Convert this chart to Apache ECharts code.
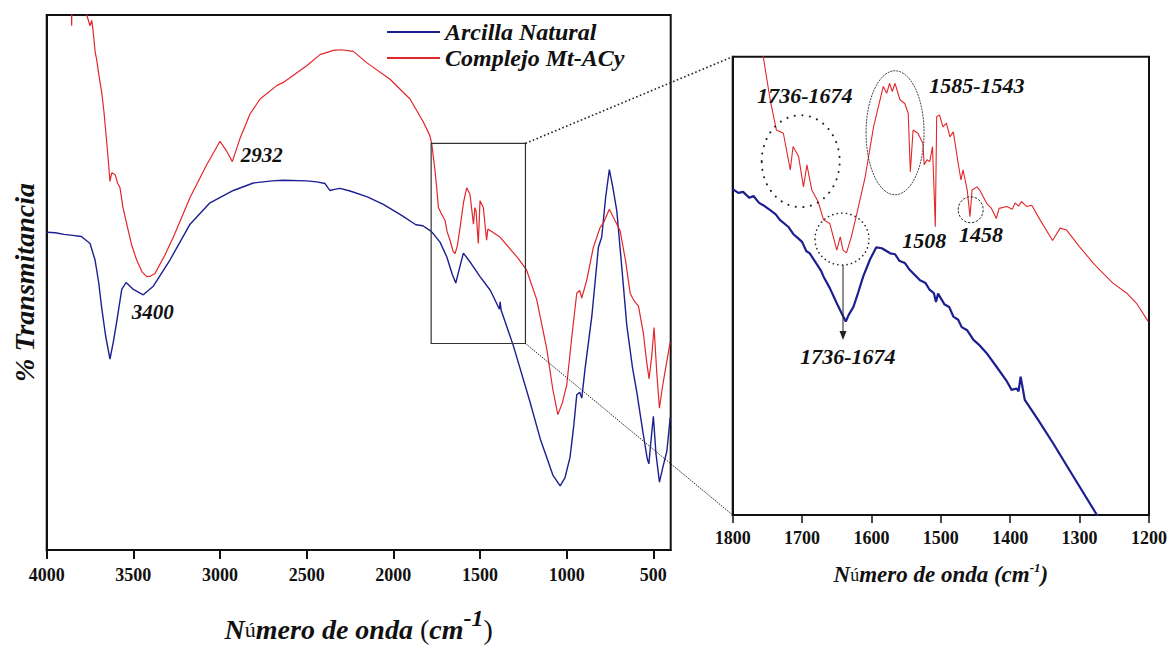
<!DOCTYPE html>
<html><head><meta charset="utf-8">
<script src="https://cdn.jsdelivr.net/npm/echarts@6/dist/echarts.min.js"></script>
<style>html,body{margin:0;padding:0;background:#fff}#c{width:1172px;height:648px}</style>
</head><body><div id="c"></div>
<script>
const seriesNames = ['Arcilla Natural', 'Complejo Mt-ACy'];
const mainTickLabels = [4000, 3500, 3000, 2500, 2000, 1500, 1000, 500];
const insetTickLabels = [1800, 1700, 1600, 1500, 1400, 1300, 1200];

// Main panel: Arcilla Natural (blue)
const arcillaMainWn = [4000,3950,3900,3850,3800,3750,3721,3700,3684,3660,3635,3615,3597,3567,3542,3500,3443,3385,3289,3173,3058,2923,2808,2700,2635,2500,2442,2394,2375,2365,2340,2308,2250,2150,2058,1950,1870,1830,1788,1769,1730,1692,1660,1640,1620,1596,1550,1500,1440,1388,1384,1378,1308,1212,1150,1115,1080,1038,1010,981,960,942,925,913,894,855,817,798,775,754,735,711,680,653,620,596,560,535,526,515,500,485,465,445,422,403];
const arcillaMainT  = [59.4,59.3,59.0,58.8,58.6,57.3,54.2,50.0,45.6,40.0,35.7,39.0,42.5,48.7,50.0,48.7,47.7,49.3,54.2,60.9,64.9,67.2,68.6,69.0,69.1,69.0,68.8,68.5,67.6,67.2,67.4,67.6,67.1,66.0,64.6,62.5,60.8,60.6,59.7,59.1,57.5,54.8,51.5,49.9,52.5,55.5,53.5,51.1,48.5,45.0,46.4,44.8,38.2,27.7,20.5,17.3,14.0,12.0,13.5,17.3,23.0,29.0,29.5,28.4,33.9,43.7,56.6,58.5,66.0,71.1,68.0,63.4,52.0,41.9,34.0,29.6,22.0,17.0,16.1,20.0,25.0,18.0,12.7,15.5,18.5,24.7];

// Main panel: Complejo Mt-ACy (red)
const complejoMainWn = [3900,3860,3856,3852,3800,3769,3750,3740,3731,3720,3712,3700,3683,3670,3654,3645,3635,3625,3606,3590,3577,3560,3538,3510,3481,3450,3423,3400,3375,3320,3269,3173,3077,3000,2961,2929,2915,2885,2827,2769,2673,2635,2500,2423,2346,2300,2231,2154,2019,1904,1827,1790,1779,1760,1750,1740,1725,1712,1702,1690,1673,1655,1644,1630,1615,1595,1577,1558,1538,1530,1523,1510,1500,1481,1462,1455,1442,1385,1327,1280,1231,1173,1115,1080,1051,1025,1000,970,942,925,913,884,846,807,790,754,720,692,660,634,610,586,558,540,525,510,496,480,465,450,433,403];
const complejoMainT  = [115,110,98,110,106,100,98,99,96.6,93,91.7,89,85.6,82,76.3,73,68.9,70.5,70.2,68.5,67.7,64,60.9,57,54.2,52,51.1,51.2,51.7,55,58.5,65.9,72.0,76.4,74.5,72.6,74,76.9,81.5,84.3,86.8,87.4,90.5,92.6,93.4,93.5,93.2,91.1,88.0,84.3,80.0,77.5,76.0,71,67.7,64.0,63,62.2,61.6,59.5,57.9,55.8,55.4,57,60.3,65,67.7,66.5,60.9,64,63.4,57.3,65.3,64.0,57.9,60,59.7,58.5,56.3,54.5,52.3,46.8,37.6,30,25.3,27.5,30.8,40,48.0,48.5,47.1,50.5,56.6,60.3,61,63.7,61.5,59.7,54,48.0,46.5,45.6,40.6,35.5,32.0,36,41.6,33,26.5,30,33.3,38.8];

// Inset panel (1800-1200 cm-1): Arcilla Natural
const arcillaInsetWn = [1800,1792,1785,1776,1770,1762,1756,1745,1738,1732,1720,1712,1708,1700,1694,1689,1680,1673,1669,1660,1650,1643,1637,1633,1626,1619,1612,1602,1593,1585,1573,1566,1560,1552,1545,1530,1522,1516,1510,1507,1504,1495,1488,1482,1475,1470,1462,1453,1444,1434,1420,1405,1398,1391,1388,1385,1379,1360,1338,1309,1275,1250];
const arcillaInsetT  = [71.1,70.3,70.5,69.2,69.6,68.1,67.6,66.4,65.6,64.4,62.9,61.2,60.7,59.6,57.6,57.1,55.0,53.4,52.0,49.5,46.2,44.0,42.2,43.6,45.4,48.6,52.0,55.8,58.4,58.2,57.1,56.9,55.5,55.0,53.5,51.2,50.6,49.1,48.4,46.5,48.3,46.0,45.4,43.3,42.6,41.0,40.3,38.2,37.0,35.3,32.4,29.2,27.3,27.6,27.0,30.2,25.1,20.8,15.6,8.4,0,-7];

// Inset panel (1800-1200 cm-1): Complejo Mt-ACy
const complejoInsetWn = [1790,1770,1756,1746,1737,1727,1717,1713,1705,1698,1693,1686,1677,1669,1660,1655,1650,1645,1641,1636,1629,1621,1609,1597,1590,1583,1578,1574,1570,1566,1559,1552,1547,1544,1540,1533,1526,1524,1520,1516,1512,1508,1506,1502,1497,1492,1487,1482,1475,1471,1468,1462,1458,1455,1448,1444,1434,1427,1420,1416,1405,1397,1393,1388,1384,1376,1369,1357,1339,1328,1319,1300,1280,1271,1252,1232,1218,1201];
const complejoInsetT  = [125,112,100,90.6,84.0,83.3,75.3,80.4,78.2,71.6,76.4,70.9,68.4,64.4,63.6,60.7,57.8,60.7,57.8,57.2,60.7,65.8,73.8,84.7,89.1,93.5,92.0,94.2,92.4,94.2,90.6,89.8,87.6,74.9,84.0,83.3,81.1,76.4,77.5,77.1,80.4,62.9,86.9,87.3,84.7,85.5,82.5,83.6,76.7,73.1,75.3,70.9,65.1,70.9,71.6,70.9,68.0,66.9,64.7,66.9,67.3,66.7,68.1,67.4,68.4,67.3,67.6,64.4,59.9,62.6,62.2,58.5,54.9,53.5,50.6,48.4,46.2,42.2];

// Annotations (data coordinates)
const mainPeakLabels = ['3400', '2932'];
const mainPeakAt = [[3510, 44.5], [2881, 73.9]];
const insetPeakLabels = ['1736-1674', '1585-1543', '1508', '1458', '1736-1674'];
const insetPeakAt = [[1696, 91.6], [1448, 93.8], [1524, 60.0], [1442, 61.1], [1634, 34.5]];
const zoomBox = [1782, 1238, 38.6, 76.0];

const zip = (a, b) => a.map((x, i) => [x, b[i]]);
const FONT = '"Liberation Serif", "Times New Roman", serif';
const BLUE = '#1c1f8f';
const RED = '#e2262a';
const plain = (v) => String(v);

const titleRich = (size, supSize, supPad, parenItalic) => ({
  b: { fontFamily: FONT, fontSize: size, fontWeight: 'bold', fontStyle: 'italic', color: '#111' },
  u: { fontFamily: FONT, fontSize: Math.round(size * 0.8), fontWeight: 'normal', fontStyle: 'normal', color: '#111' },
  p: { fontFamily: FONT, fontSize: size, fontWeight: parenItalic ? 'bold' : 'normal', fontStyle: parenItalic ? 'italic' : 'normal', color: '#111' },
  s: { fontFamily: FONT, fontSize: supSize, fontWeight: 'bold', fontStyle: 'italic', color: '#111', padding: [0, 0, supPad, 0] }
});

const chart = echarts.init(document.getElementById('c'), null, { renderer: 'svg' });
const option = {
  animation: false,
  backgroundColor: '#fff',
  legend: {
    data: seriesNames,
    orient: 'vertical',
    left: 387, top: 20,
    padding: 0,
    itemGap: 2,
    itemWidth: 53, itemHeight: 2,
    icon: 'rect',
    textStyle: { fontFamily: FONT, fontSize: 24, fontWeight: 'bold', fontStyle: 'italic', color: '#111', lineHeight: 24 }
  },
  grid: [
    { left: 46.7, top: 15, width: 624, height: 542, show: true, borderColor: '#111', borderWidth: 2, backgroundColor: 'transparent' },
    { left: 732.7, top: 56.7, width: 416.3, height: 458.3, show: true, borderColor: '#111', borderWidth: 2, backgroundColor: 'transparent' }
  ],
  xAxis: [
    {
      type: 'value', gridIndex: 0, inverse: true, min: 400, max: 4000,
      axisLine: { lineStyle: { color: '#111', width: 2 } },
      axisTick: { length: 9, lineStyle: { color: '#111', width: 2 }, customValues: mainTickLabels },
      axisLabel: { customValues: mainTickLabels, formatter: plain, margin: 16, fontFamily: FONT, fontSize: 18, fontWeight: 'bold', color: '#111' },
      splitLine: { show: false },
      name: '{b|N}{u|ú}{b|mero de onda }{p|(}{b|cm}{s|-1}{p|)}',
      nameLocation: 'middle', nameGap: 56,
      nameTextStyle: { rich: titleRich(28, 24, 22, false) }
    },
    {
      type: 'value', gridIndex: 1, inverse: true, min: 1200, max: 1800, interval: 100,
      axisLine: { lineStyle: { color: '#111', width: 2 } },
      axisTick: { length: 8, lineStyle: { color: '#111', width: 1.5 }, customValues: insetTickLabels },
      axisLabel: { customValues: insetTickLabels, formatter: plain, margin: 14, fontFamily: FONT, fontSize: 18, fontWeight: 'bold', color: '#111' },
      splitLine: { show: false },
      name: '{b|N}{u|ú}{b|mero de onda (cm}{s|-1}{b|)}',
      nameLocation: 'middle', nameGap: 46,
      nameTextStyle: { rich: titleRich(23, 13, 14, true) }
    }
  ],
  yAxis: [
    {
      type: 'value', gridIndex: 0, min: 0, max: 100,
      axisLine: { show: true, lineStyle: { color: '#111', width: 2 } },
      axisTick: { show: false }, axisLabel: { show: false }, splitLine: { show: false },
      name: '% Transmitancia', nameLocation: 'middle', nameGap: 8, nameRotate: 90,
      nameTextStyle: { fontFamily: FONT, fontSize: 28, fontWeight: 'bold', fontStyle: 'italic', color: '#111' }
    },
    {
      type: 'value', gridIndex: 1, min: 0, max: 100,
      axisLine: { show: true, lineStyle: { color: '#111', width: 2 } },
      axisTick: { show: false }, axisLabel: { show: false }, splitLine: { show: false }
    }
  ],
  series: [
    { name: seriesNames[0], type: 'line', xAxisIndex: 0, yAxisIndex: 0, data: zip(arcillaMainWn, arcillaMainT), showSymbol: false, symbol: 'none', clip: true, lineStyle: { color: BLUE, width: 1.4 }, itemStyle: { color: BLUE }, z: 3 },
    { name: seriesNames[1], type: 'line', xAxisIndex: 0, yAxisIndex: 0, data: zip(complejoMainWn, complejoMainT), showSymbol: false, symbol: 'none', clip: true, lineStyle: { color: RED, width: 1.2 }, itemStyle: { color: RED }, z: 3 },
    { name: seriesNames[0], type: 'line', xAxisIndex: 1, yAxisIndex: 1, data: zip(arcillaInsetWn, arcillaInsetT), showSymbol: false, symbol: 'none', clip: true, lineStyle: { color: BLUE, width: 2.2 }, itemStyle: { color: BLUE }, z: 3 },
    { name: seriesNames[1], type: 'line', xAxisIndex: 1, yAxisIndex: 1, data: zip(complejoInsetWn, complejoInsetT), showSymbol: false, symbol: 'none', clip: true, lineStyle: { color: RED, width: 1.1 }, itemStyle: { color: RED }, z: 3 }
  ]
};
chart.setOption(option);

const P = (g, w, v) => chart.convertToPixel({ xAxisIndex: g, yAxisIndex: g }, [w, v]);
const label = (pt, s, size, align) => ({
  type: 'text', x: pt[0], y: pt[1], silent: true, z: 100,
  style: { text: s, fontFamily: FONT, fontSize: size, fontWeight: 'bold', fontStyle: 'italic', fill: '#111', align: align || 'center', verticalAlign: 'middle' }
});
const g = [];
mainPeakLabels.forEach((s, i) => g.push(label(P(0, mainPeakAt[i][0], mainPeakAt[i][1]), s, 21, 'left')));
insetPeakLabels.forEach((s, i) => g.push(label(P(1, insetPeakAt[i][0], insetPeakAt[i][1]), s, 22, 'center')));

// zoom rectangle in main panel
const b1 = P(0, zoomBox[0], zoomBox[3]);
const b2 = P(0, zoomBox[1], zoomBox[2]);
g.push({ type: 'rect', silent: true, z: 50, shape: { x: b1[0], y: b1[1], width: b2[0] - b1[0], height: b2[1] - b1[1] }, style: { fill: 'none', stroke: '#333', lineWidth: 1.2 } });
const iTL = P(1, 1800, 100), iBL = P(1, 1800, 0);
g.push({ type: 'line', silent: true, z: 50, shape: { x1: b2[0], y1: b1[1], x2: iTL[0], y2: iTL[1] }, style: { stroke: '#222', lineWidth: 1.6, lineDash: [1.6, 2.4] } });
g.push({ type: 'line', silent: true, z: 50, shape: { x1: b2[0], y1: b2[1], x2: iBL[0], y2: iBL[1] }, style: { stroke: '#222', lineWidth: 1, lineDash: [1.5, 1.2] } });

// circles in inset
const c1 = P(1, 1702, 77.2);
g.push({ type: 'ellipse', silent: true, z: 60, shape: { cx: c1[0], cy: c1[1], rx: 39, ry: 46 }, style: { fill: 'none', stroke: '#222', lineWidth: 2, lineDash: [0.1, 7.5], lineCap: 'round' } });
const c2 = P(1, 1642.5, 60.2);
g.push({ type: 'ellipse', silent: true, z: 60, shape: { cx: c2[0], cy: c2[1], rx: 27, ry: 26 }, style: { fill: 'none', stroke: '#222', lineWidth: 1.6, lineDash: [0.1, 4.5], lineCap: 'round' } });
const c3 = P(1, 1566, 83.4);
g.push({ type: 'ellipse', silent: true, z: 60, shape: { cx: c3[0], cy: c3[1], rx: 29, ry: 62 }, style: { fill: 'none', stroke: '#444', lineWidth: 1, lineDash: [2, 1] } });
const c4 = P(1, 1457, 66.6);
g.push({ type: 'ellipse', silent: true, z: 60, shape: { cx: c4[0], cy: c4[1], rx: 12.5, ry: 13 }, style: { fill: 'none', stroke: '#333', lineWidth: 1, lineDash: [2.5, 1.5] } });

// arrow
const a1 = P(1, 1641, 54.6), a2 = P(1, 1641, 38.2);
g.push({ type: 'line', silent: true, z: 60, shape: { x1: a1[0], y1: a1[1], x2: a2[0], y2: a2[1] - 6 }, style: { stroke: '#222', lineWidth: 1 } });
g.push({ type: 'polygon', silent: true, z: 60, shape: { points: [[a2[0] - 3.5, a2[1] - 9], [a2[0] + 3.5, a2[1] - 9], [a2[0], a2[1]]] }, style: { fill: '#222' } });

chart.setOption({ graphic: g });
</script>
</body></html>
